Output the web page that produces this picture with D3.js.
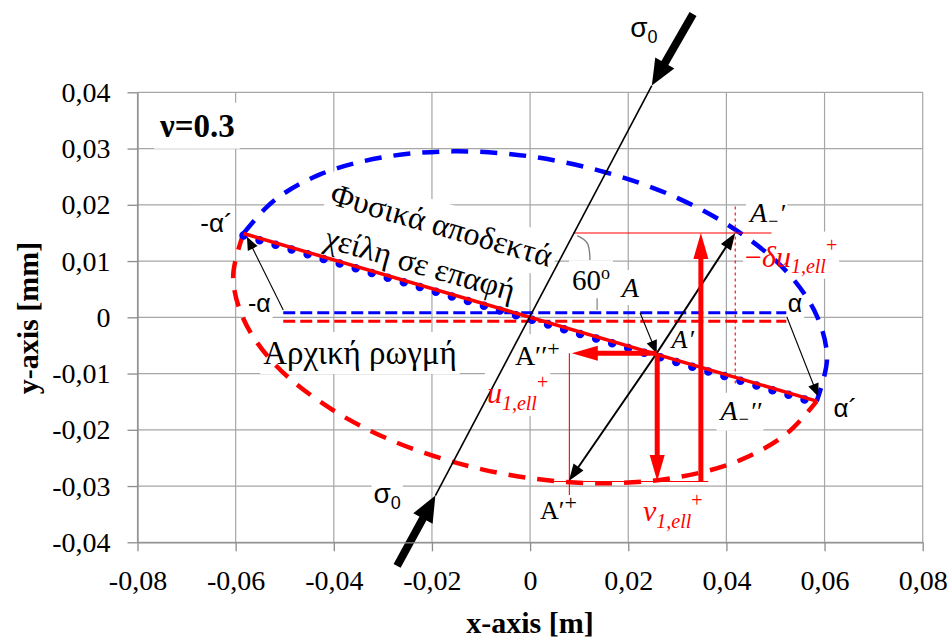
<!DOCTYPE html>
<html>
<head>
<meta charset="utf-8">
<script src="https://cdn.jsdelivr.net/npm/d3@7"></script>
<style>
  body { margin: 0; background: #fff; }
  svg { display: block; }
</style>
</head>
<body>
<svg id="chart" width="952" height="642"></svg>
<script>
// ---- data ----------------------------------------------------------------
const xTicks = [-0.08, -0.06, -0.04, -0.02, 0, 0.02, 0.04, 0.06, 0.08];
const yTicks = [-0.04, -0.03, -0.02, -0.01, 0, 0.01, 0.02, 0.03, 0.04];

// deformed ellipse: upper flank (blue) from -α΄ over the top to α΄
const upperArc = [
  [-0.0584, 0.0149], [-0.0524, 0.0206], [-0.0428, 0.0254], [-0.0303, 0.0284],
  [-0.0157, 0.0295], [0.0000, 0.0286], [0.0157, 0.0257], [0.0303, 0.0211],
  [0.0428, 0.0150], [0.0524, 0.0080], [0.0584, 0.0003], [0.0605, -0.0073],
  [0.0584, -0.0149]
];
// lower flank (red) from -α΄ under the bottom to α΄
const lowerArc = [
  [-0.0584, 0.0149], [-0.0605, 0.0073], [-0.0584, -0.0003], [-0.0524, -0.0080],
  [-0.0428, -0.0150], [-0.0303, -0.0211], [-0.0157, -0.0257], [0.0000, -0.0286],
  [0.0157, -0.0295], [0.0303, -0.0284], [0.0428, -0.0254], [0.0524, -0.0206],
  [0.0584, -0.0149]
];
// lips in contact
const contactLine = [[-0.0584, 0.0149], [0.0584, -0.0149]];
const contactDots = [[-0.0584, 0.01455], [0.0584, -0.01525]];
// initial crack faces
const crackUpper = [[-0.0503, 0.0008], [0.0522, 0.0008]];
const crackLower = [[-0.0503, -0.0007], [0.0522, -0.0007]];
// load direction σ0
const loadAxis = [[-0.0193, -0.0317], [0.0248, 0.0412]];
const loadTop = [[0.0332, 0.0539], [0.0248, 0.0412]];
const loadBottom = [[-0.0271, -0.0442], [-0.0193, -0.0317]];
// characteristic points
const ptA1 = [0.0258, -0.0064];      // A΄
const ptAminus1 = [0.0418, 0.0150];  // A_−΄
const ptAplus1 = [0.0079, -0.0291];  // A΄+
const tipMinusA = [-0.0577, 0.0143];
const tipA = [0.0587, -0.0141];
// displacement components
const uArrow = [[0.0258, -0.0064], [0.0085, -0.0064]];
const vArrow = [[0.0259, -0.0064], [0.0259, -0.0291]];
const duArrow = [[0.0348, -0.0292], [0.0348, 0.0150]];
// thin reference lines
const refTop = [[0.0088, 0.0150], [0.0492, 0.0150]];
const refBottom = [[0.0027, -0.0292], [0.0363, -0.0292]];
const refLeft = [[0.0080, -0.0064], [0.0080, -0.0316]];
const refRight = [[0.0418, 0.0197], [0.0418, -0.0120]];
// 60° angle marker
const angleArc = [[0.0096, 0.0145], [0.0117, 0.0131], [0.0122, 0.0102]];
const angleLeader = [[0.01365, 0.0034], [0.01365, 0.0013]];

// ---- setup ----------------------------------------------------------------
const SERIF = "'Liberation Serif', 'Times New Roman', serif";
const SANS = "'Liberation Sans', Arial, sans-serif";
const BLUE = "#0000ff", RED = "#ff0000", GRID = "#a6a6a6";

const svg = d3.select("#chart");
const M = { left: 137.5, right: 922.7, top: 92.3, bottom: 542.3 };
const x = d3.scaleLinear().domain([-0.08, 0.08]).range([M.left, M.right]);
const y = d3.scaleLinear().domain([-0.04, 0.04]).range([M.bottom, M.top]);
const P = d => [x(d[0]), y(d[1])];
const fmt = d => d === 0 ? "0" : d3.format(".2f")(d).replace(".", ",").replace("\u2212", "-");

const gGrid = svg.append("g");
const gBoxes = svg.append("g");
const gMarks = svg.append("g");
const gText = svg.append("g");

// grid
gGrid.selectAll("line.v").data(xTicks).join("line")
  .attr("x1", d => x(d)).attr("x2", d => x(d)).attr("y1", M.top).attr("y2", M.bottom)
  .attr("stroke", GRID).attr("stroke-width", 1.2);
gGrid.selectAll("line.h").data(yTicks).join("line")
  .attr("y1", d => y(d)).attr("y2", d => y(d)).attr("x1", M.left).attr("x2", M.right)
  .attr("stroke", GRID).attr("stroke-width", 1.2);

// axes
const ax = svg.append("g").attr("transform", `translate(0,${M.bottom})`)
  .call(d3.axisBottom(x).tickValues(xTicks).tickFormat(fmt).tickSize(9).tickSizeOuter(0).tickPadding(19));
const ay = svg.append("g").attr("transform", `translate(${M.left},0)`)
  .call(d3.axisLeft(y).tickValues(yTicks).tickFormat(fmt).tickSize(10).tickSizeOuter(0).tickPadding(17));
[ax, ay].forEach(g => {
  g.select(".domain").attr("stroke", "#8c8c8c").attr("stroke-width", 1.3);
  g.selectAll(".tick line").attr("stroke", "#8c8c8c").attr("stroke-width", 1.3);
  g.selectAll(".tick text").attr("font-family", SERIF).attr("font-size", 28).attr("fill", "#000");
});

svg.append("text").attr("x", 530).attr("y", 633).attr("text-anchor", "middle")
  .attr("font-family", SERIF).attr("font-weight", "bold").attr("font-size", 30).text("x-axis [m]");
svg.append("text").attr("transform", "translate(38,318) rotate(-90)").attr("text-anchor", "middle")
  .attr("font-family", SERIF).attr("font-weight", "bold").attr("font-size", 30).text("y-axis [mm]");

// ---- marks ----------------------------------------------------------------
const smooth = d3.line().x(d => x(d[0])).y(d => y(d[1])).curve(d3.curveCatmullRom.alpha(0.5));
const straight = d3.line().x(d => x(d[0])).y(d => y(d[1]));

gMarks.append("path").attr("d", smooth(upperArc)).attr("fill", "none")
  .attr("stroke", BLUE).attr("stroke-width", 4.5).attr("stroke-dasharray", "17 12");
gMarks.append("path").attr("d", smooth(lowerArc)).attr("fill", "none")
  .attr("stroke", RED).attr("stroke-width", 4.5).attr("stroke-dasharray", "17 12");

gMarks.append("path").attr("d", straight(crackUpper)).attr("stroke", BLUE)
  .attr("stroke-width", 3).attr("stroke-dasharray", "12 5");
gMarks.append("path").attr("d", straight(crackLower)).attr("stroke", RED)
  .attr("stroke-width", 3).attr("stroke-dasharray", "12 5");

gMarks.append("path").attr("d", straight(contactDots)).attr("stroke", BLUE)
  .attr("stroke-width", 8.5).attr("stroke-linecap", "round").attr("stroke-dasharray", "0 16.7");
gMarks.append("path").attr("d", straight(contactLine)).attr("stroke", RED).attr("stroke-width", 3.5);

// thin red reference lines
[refTop, refBottom, refLeft].forEach(seg =>
  gMarks.append("path").attr("d", straight(seg)).attr("stroke", RED).attr("stroke-width", 1.1));
gMarks.append("path").attr("d", straight(refRight)).attr("stroke", RED)
  .attr("stroke-width", 1.1).attr("stroke-dasharray", "3 3");

// angle marker
gMarks.append("path").attr("d", d3.line().x(d => x(d[0])).y(d => y(d[1])).curve(d3.curveNatural)(angleArc))
  .attr("fill", "none").attr("stroke", "#808080").attr("stroke-width", 1.4);
gMarks.append("path").attr("d", straight(angleLeader)).attr("stroke", "#808080").attr("stroke-width", 1.2);

// arrow drawn in pixel space: shaft stops at the base of the head
function arrow(from, to, o) {
  const [x0, y0] = P(from), [x1, y1] = P(to);
  const dx = x1 - x0, dy = y1 - y0, L = Math.hypot(dx, dy);
  const ux = dx / L, uy = dy / L, nx = -uy, ny = ux;
  const bx = x1 - ux * o.head, by = y1 - uy * o.head;
  gMarks.append("line").attr("x1", x0).attr("y1", y0)
    .attr("x2", bx + ux * 1).attr("y2", by + uy * 1)
    .attr("stroke", o.color).attr("stroke-width", o.width);
  gMarks.append("polygon")
    .attr("points", [[x1, y1], [bx + nx * o.hw, by + ny * o.hw], [bx - nx * o.hw, by - ny * o.hw]].map(p => p.join(",")).join(" "))
    .attr("fill", o.color);
}

// σ0 load line and arrows
gMarks.append("path").attr("d", straight(loadAxis)).attr("stroke", "#000").attr("stroke-width", 1.6);
arrow(loadTop[0], loadTop[1], { color: "#000", width: 8, head: 26, hw: 11 });
arrow(loadBottom[0], loadBottom[1], { color: "#000", width: 8, head: 26, hw: 11 });

// thin leader arrows
arrow([-0.0503, 0.0013], tipMinusA, { color: "#000", width: 1.1, head: 13, hw: 5.5 });
arrow([0.0523, 0.0001], tipA, { color: "#000", width: 1.1, head: 13, hw: 5.5 });
arrow([0.0224, 0.0008], ptA1, { color: "#000", width: 1.1, head: 13, hw: 5.5 });

// A΄ to its images on the ellipse
arrow(ptA1, ptAminus1, { color: "#000", width: 2, head: 17, hw: 6 });
arrow(ptA1, ptAplus1, { color: "#000", width: 2, head: 17, hw: 6 });

// displacement arrows
arrow(uArrow[0], uArrow[1], { color: RED, width: 5, head: 26, hw: 7.5 });
arrow(vArrow[0], vArrow[1], { color: RED, width: 5, head: 26, hw: 7.5 });
arrow(duArrow[0], duArrow[1], { color: RED, width: 5, head: 26, hw: 7.5 });

// ---- text -----------------------------------------------------------------
const boxes = [];
function label(parts, at, o = {}) {
  const [px, py] = P(at);
  const t = gText.append("text")
    .attr("x", px).attr("y", py)
    .attr("font-family", o.family || SERIF)
    .attr("font-size", o.size || 28)
    .attr("fill", o.color || "#000")
    .attr("text-anchor", o.anchor || "start");
  if (o.weight) t.attr("font-weight", o.weight);
  if (o.italic) t.attr("font-style", "italic");
  if (o.transform) t.attr("transform", o.transform);
  parts.forEach(p => {
    const s = t.append("tspan").text(p.t);
    if (p.size) s.attr("font-size", p.size);
    if (p.dy) s.attr("dy", p.dy);
    if (p.dx) s.attr("dx", p.dx);
    if (p.italic !== undefined) s.attr("font-style", p.italic ? "italic" : "normal");
  });
  if (o.box !== false) boxes.push({ node: t.node(), transform: o.transform, pad: o.pad == null ? 2 : o.pad });
  return t;
}

label([{ t: "ν=0.3" }], [-0.0754, 0.0321], { weight: "bold", size: 33, pad: 5 });
label([{ t: "-α´" }], [-0.0672, 0.0152], { family: SANS, size: 26 });
label([{ t: "-α" }], [-0.0575, 0.0009], { family: SANS, size: 25 });
label([{ t: "Αρχική ρωγμή" }], [-0.0544, -0.0083], { size: 33, pad: 3 });

// rotated caption along the contact line
{
  const c = [x(-0.0202), y(0.0131)];
  const tr = `translate(${c[0]},${c[1]}) rotate(16)`;
  const t1 = gText.append("text").attr("transform", tr).attr("x", 5).attr("y", -21)
    .attr("text-anchor", "middle").attr("dominant-baseline", "central")
    .attr("font-family", SERIF).attr("font-size", 32).text("Φυσικά αποδεκτά");
  const t2 = gText.append("text").attr("transform", tr).attr("x", -5).attr("y", 22)
    .attr("text-anchor", "middle").attr("dominant-baseline", "central")
    .attr("font-family", SERIF).attr("font-size", 32).text("χείλη σε επαφή");
  boxes.push({ node: t1.node(), transform: tr, pad: 4 });
  boxes.push({ node: t2.node(), transform: tr, pad: 4 });
}

label([{ t: "60" }, { t: "o", size: 18, dy: -11 }], [0.00855, 0.0048], { size: 29, pad: 3 });
label([{ t: "A" }], [0.0187, 0.0036], { italic: true, size: 28 });
label([{ t: "A" }, { t: "′", dx: 1 }], [0.0288, -0.0054], { italic: true, size: 26 });
label([{ t: "A" }, { t: "−", size: 18, dy: 5 }, { t: "′", size: 26, dy: -5 }], [0.0448, 0.0170], { italic: true, size: 28 });
label([{ t: "−" , italic: false}, { t: "δu" }, { t: "1,ell", size: 20, dy: 6 }, { t: "+", size: 20, dy: -21, italic: false }],
  [0.0438, 0.0090], { italic: true, size: 30, color: RED });
label([{ t: "α" }], [0.0525, 0.0009], { family: SANS, size: 25 });
label([{ t: "α´" }], [0.0618, -0.0177], { family: SANS, size: 26 });
label([{ t: "A" }, { t: "′′" }, { t: "+", size: 22, dy: -9 }], [-0.0031, -0.0085], { size: 28 });
label([{ t: "u" }, { t: "1,ell", size: 20, dy: 7 }, { t: "+", size: 20, dy: -21, italic: false }],
  [-0.0088, -0.0152], { italic: true, size: 30, color: RED });
label([{ t: "A" }, { t: "−", size: 18, dy: 5 }, { t: "′′", size: 26, dy: -5 }], [0.0388, -0.0182], { italic: true, size: 28 });
label([{ t: "A" }, { t: "′" }, { t: "+", size: 22, dy: -9 }], [0.0020, -0.0359], { size: 26 });
label([{ t: "v" }, { t: "1,ell", size: 20, dy: 7 }, { t: "+", size: 20, dy: -21, italic: false }],
  [0.0230, -0.0362], { italic: true, size: 30, color: RED });
label([{ t: "σ" }, { t: "0", size: 18, dy: 6 }], [0.0204, 0.0498], { family: SANS, size: 28, box: false });
label([{ t: "σ" }, { t: "0", size: 18, dy: 6 }], [-0.0319, -0.0330], { family: SANS, size: 28 });

// white backgrounds behind the labels (they hide only the grid)
boxes.forEach(b => {
  const bb = b.node.getBBox();
  const r = gBoxes.append("rect")
    .attr("x", bb.x - b.pad).attr("y", bb.y - b.pad)
    .attr("width", bb.width + 2 * b.pad).attr("height", bb.height + 2 * b.pad)
    .attr("fill", "#fff");
  if (b.transform) r.attr("transform", b.transform);
});
</script>
</body>
</html>
